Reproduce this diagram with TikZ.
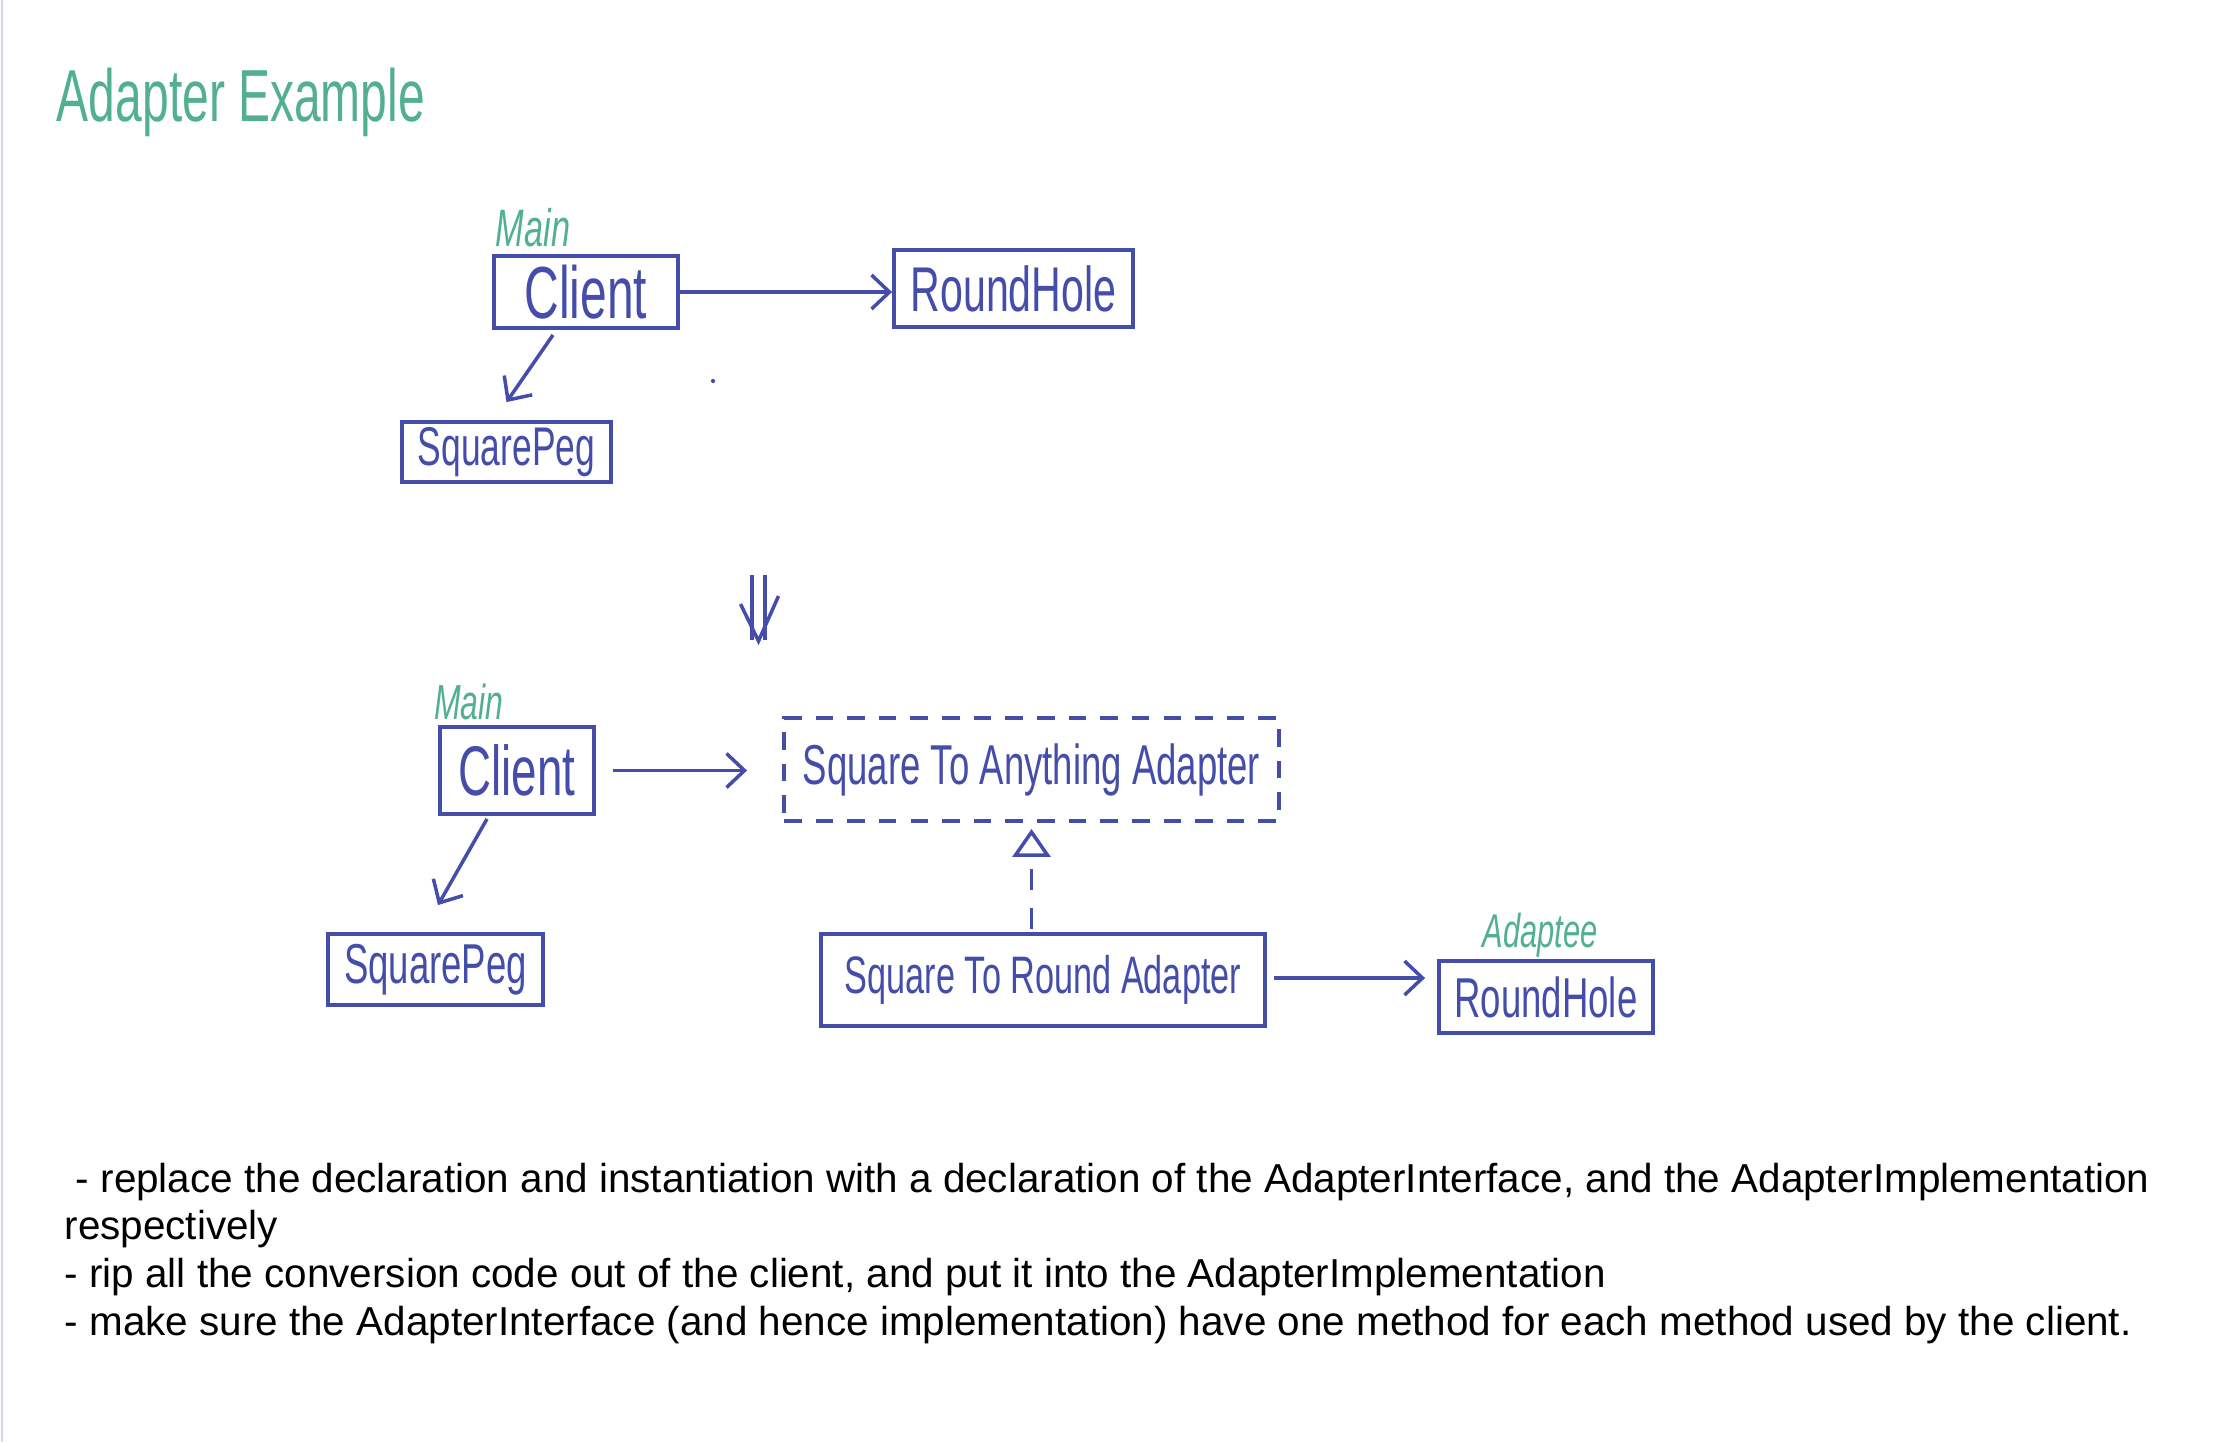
\documentclass[tikz,border=0pt]{standalone}
\usepackage{fontspec}
\setmainfont{Liberation Sans}
\newfontfamily\handfont[FakeStretch=0.65]{Liberation Sans}
\usepackage{xcolor}
\definecolor{pen}{HTML}{444EAA}
\definecolor{mint}{HTML}{52B08E}
\definecolor{edge}{HTML}{D3D8E2}
\usepackage{tikz}
\usetikzlibrary{arrows.meta,positioning,calc}
\tikzset{
    classbox/.style={draw=pen, line width=1.1pt, text=pen, inner sep=0pt, align=center},
    adapterbox/.style={classbox, dashed, dash pattern=on 5pt off 4pt},
    tag/.style={text=mint, inner sep=0pt, font=\handfont\itshape},
    arrow/.style={-{Straight Barb[length=1.8mm,width=3.4mm]}, draw=pen, line width=1pt},
    realize/.style={-{Triangle[open,length=2.8mm,width=3.8mm]}, draw=pen, line width=1pt, dashed, dash pattern=on 6pt off 5pt},
    note/.style={anchor=north west, align=left, inner sep=0pt, font=\fontsize{11.5}{13.6}\selectfont}
}

\begin{document}
\begin{tikzpicture}
  \useasboundingbox (0,0) rectangle (22.28,-14.42);
  \draw[edge, line width=0.8pt] (0.02,0) -- (0.02,-14.42);

  % Title
  \node[tag, font=\handfont\fontsize{21}{23}\selectfont] (title) at (2.41,-1.02) {Adapter Example};

  % Before
  \node[classbox, minimum width=1.84cm, minimum height=0.72cm, font=\handfont\fontsize{21}{23}\selectfont] (client) at (5.86,-2.92) {Client};
  \node[classbox, minimum width=2.39cm, minimum height=0.77cm, font=\handfont\fontsize{18}{20}\selectfont] (roundhole) at (10.135,-2.885) {RoundHole};
  \node[classbox, minimum width=2.09cm, minimum height=0.60cm, font=\handfont\fontsize{15.5}{17}\selectfont] (squarepeg) at (5.065,-4.52) {SquarePeg};
  \node[tag, font=\handfont\itshape\fontsize{15}{16}\selectfont] (main) at (5.33,-2.28) {Main};
  \fill[pen] (7.13,-3.81) circle (0.6pt);

  \draw[arrow] (client.east) -- (client.east -| roundhole.west);
  \draw[arrow] ([xshift=-3.3mm,yshift=-0.5mm]client.south) -- ([yshift=1.8mm]squarepeg.north);

  % Step arrow
  \coordinate (step_top) at (7.585,-5.75);
  \coordinate (step_bot) at (7.585,-6.40);
  \draw[pen, line width=1pt] ([xshift=-0.65mm]step_top) -- ([xshift=-0.65mm]step_bot);
  \draw[pen, line width=1pt] ([xshift=0.65mm]step_top) -- ([xshift=0.65mm]step_bot);
  \draw[pen, line width=1pt] ([xshift=-1.8mm,yshift=3.6mm]step_bot) -- ([yshift=-0.1mm]step_bot) -- ([xshift=2.0mm,yshift=4.4mm]step_bot);

  % After
  \node[classbox, minimum width=1.54cm, minimum height=0.87cm, font=\handfont\fontsize{20}{22}\selectfont] (client_new) at (5.17,-7.705) {Client};
  \node[tag, font=\handfont\itshape\fontsize{14}{15}\selectfont] (main_new) at (4.69,-7.02) {Main};
  \node[classbox, minimum width=2.15cm, minimum height=0.71cm, font=\handfont\fontsize{16}{18}\selectfont] (squarepeg_new) at (4.355,-9.695) {SquarePeg};
  \node[adapterbox, minimum width=4.95cm, minimum height=1.03cm, font=\handfont\fontsize{16}{18}\selectfont] (anything_adapter) at (10.315,-7.695) {Square To Anything Adapter};
  \node[classbox, minimum width=4.44cm, minimum height=0.92cm, font=\handfont\fontsize{15}{17}\selectfont] (round_adapter) at (10.43,-9.80) {Square To Round Adapter};
  \node[classbox, minimum width=2.14cm, minimum height=0.72cm, font=\handfont\fontsize{16}{18}\selectfont] (roundhole_new) at (15.46,-9.97) {RoundHole};
  \node[tag, font=\handfont\itshape\fontsize{13.5}{15}\selectfont] (adaptee) at (15.40,-9.35) {Adaptee};

  \draw[arrow, shorten <=1.7mm, shorten >=3.5mm] (client_new.east) -- (client_new.east -| anything_adapter.west);
  \draw[arrow] ([xshift=-3mm,yshift=-0.3mm]client_new.south) -- ([xshift=0.25mm,yshift=2.7mm]squarepeg_new.north);
  \draw[realize, shorten <=0.3mm, shorten >=0.6mm] (round_adapter.north -| anything_adapter.south) -- (anything_adapter.south);
  \draw[arrow, shorten <=0.7mm, shorten >=1.2mm] ([yshift=0.2mm]round_adapter.east) -- ([yshift=0.2mm]round_adapter.east -| roundhole_new.west);

  % Notes
  \node[note] (notes) at (0.64,-11.62) {\ - replace the declaration and instantiation with a declaration of the AdapterInterface, and the AdapterImplementation\\
    respectively\\
    - rip all the conversion code out of the client, and put it into the AdapterImplementation\\
    - make sure the AdapterInterface (and hence implementation) have one method for each method used by the client.};
\end{tikzpicture}
\end{document}
